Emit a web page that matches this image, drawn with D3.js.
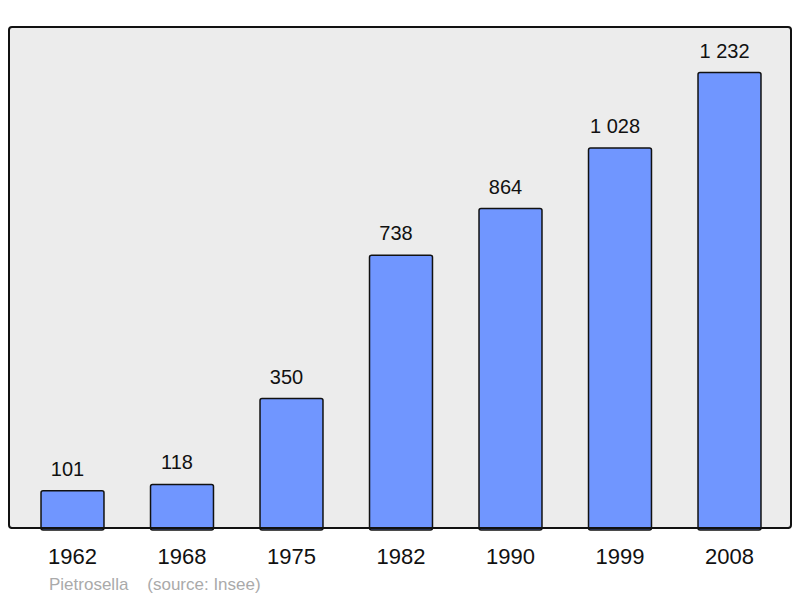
<!DOCTYPE html>
<html>
<head>
<meta charset="utf-8">
<script src="https://cdn.jsdelivr.net/npm/d3@7"></script>
<style>
  body { margin: 0; background: #fff; }
  svg { display: block; font-family: "Liberation Sans", Arial, sans-serif; }
</style>
</head>
<body>
<div id="chart"></div>
<script>
var years = ["1962", "1968", "1975", "1982", "1990", "1999", "2008"];
var population = [101, 118, 350, 738, 864, 1028, 1232];
var valueLabels = ["101", "118", "350", "738", "864", "1 028", "1 232"];

var width = 800, height = 598;
var frame = { left: 9, top: 27, right: 791, bottom: 528 };

var svg = d3.select("#chart").append("svg")
    .attr("width", width)
    .attr("height", height);

// plot background
svg.append("rect")
    .attr("x", frame.left)
    .attr("y", frame.top)
    .attr("width", frame.right - frame.left)
    .attr("height", frame.bottom - frame.top)
    .attr("rx", 3)
    .attr("fill", "#ececec")
    .attr("stroke", "#111")
    .attr("stroke-width", 2);

var x = d3.scaleBand()
    .domain(years)
    .range([17.75, 784.25])
    .paddingInner(0.425)
    .paddingOuter(0.2125);

var y = d3.scaleLinear()
    .domain([0, d3.max(population) * 1.1])
    .range([frame.bottom, frame.top]);

var data = years.map(function(d, i) {
    return { year: d, value: population[i], label: valueLabels[i] };
});

svg.selectAll("rect.bar")
    .data(data).enter()
    .append("rect")
    .attr("class", "bar")
    .attr("x", function(d) { return x(d.year); })
    .attr("y", function(d) { return y(d.value); })
    .attr("width", x.bandwidth())
    .attr("height", function(d) { return frame.bottom - y(d.value) + 2; })
    .attr("rx", 2)
    .attr("fill", "#7096ff")
    .attr("stroke", "#111")
    .attr("stroke-width", 1.5);

// redraw bottom frame line over bars
svg.append("line")
    .attr("x1", frame.left + 2)
    .attr("x2", frame.right - 2)
    .attr("y1", frame.bottom)
    .attr("y2", frame.bottom)
    .attr("stroke", "#111")
    .attr("stroke-width", 2);

svg.selectAll("text.value")
    .data(data).enter()
    .append("text")
    .attr("class", "value")
    .attr("x", function(d) { return x(d.year) + x.bandwidth() / 2 - 5; })
    .attr("y", function(d) { return y(d.value) - 15; })
    .attr("text-anchor", "middle")
    .attr("font-size", 20)
    .attr("fill", "#111")
    .text(function(d) { return d.label; });

svg.selectAll("text.year")
    .data(data).enter()
    .append("text")
    .attr("class", "year")
    .attr("x", function(d) { return x(d.year) + x.bandwidth() / 2; })
    .attr("y", 564)
    .attr("text-anchor", "middle")
    .attr("font-size", 22)
    .attr("fill", "#111")
    .text(function(d) { return d.year; });

svg.append("text")
    .attr("x", 49)
    .attr("y", 590)
    .attr("font-size", 17)
    .attr("fill", "#aaa")
    .attr("xml:space", "preserve")
    .style("white-space", "pre")
    .text("Pietrosella    (source: Insee)");
</script>
</body>
</html>
